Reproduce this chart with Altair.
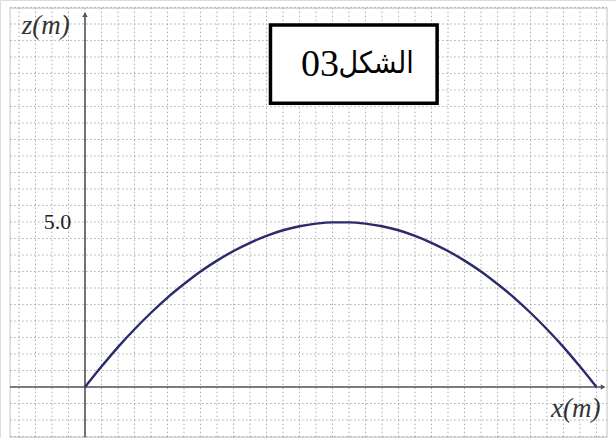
import altair as alt
import pandas as pd

# Trajectory z(x): horizontal distance (m) and height (m)
x_m = [0.0, 0.5, 1.0, 1.5, 2.0, 2.5, 3.0, 3.5, 4.0, 4.5, 5.0, 5.5, 6.0, 6.5, 7.0, 7.5,
       8.0, 8.5, 9.0, 9.5, 10.0, 10.5, 11.0, 11.5, 12.0, 12.5, 13.0, 13.5, 14.0, 14.5, 15.0, 15.5]
z_m = [0.0, 0.62, 1.21, 1.75, 2.25, 2.71, 3.12, 3.50, 3.83, 4.12, 4.37, 4.58, 4.75, 4.87, 4.95, 4.99,
       4.99, 4.95, 4.87, 4.75, 4.58, 4.37, 4.12, 3.83, 3.50, 3.12, 2.71, 2.25, 1.75, 1.21, 0.62, 0.0]

# Millimetre-paper grid, 0.5 m per cell
grid_x = [-2.0 + 0.5 * i for i in range(36)]
grid_z = [-1.5 + 0.5 * i for i in range(27)]

# Frame of the paper
frame_x = [-2.27, 15.82]
frame_z = [-1.52, 11.48]

# Text annotations
tick_label = "5.0"
tick_value = 5.0
z_label = "z(m)"
x_label = "x(m)"
fig_word = "الشكل"
fig_number = "03"

W, H = 616, 438
xs = alt.Scale(domain=[-2.576, 16.091], nice=False, zero=False)
ys = alt.Scale(domain=[-1.545, 11.727], nice=False, zero=False)


def X(field):
    return alt.X(field, type="quantitative", scale=xs, axis=None)


def Y(field):
    return alt.Y(field, type="quantitative", scale=ys, axis=None)


frame = alt.Chart(pd.DataFrame({"x": [frame_x[0]], "x2": [frame_x[1]],
                                "y": [frame_z[0]], "y2": [frame_z[1]]})).mark_rect(
    fill="white", stroke="#c4c4c4", strokeWidth=1
).encode(x=X("x"), x2="x2", y=Y("y"), y2="y2")

vgrid = alt.Chart(pd.DataFrame({"x": grid_x, "y": frame_z[0], "y2": frame_z[1]})).mark_rule(
    color="#8a8a8a", strokeWidth=1, strokeDash=[1.5, 2.5], opacity=0.7
).encode(x=X("x"), y=Y("y"), y2="y2")

hgrid = alt.Chart(pd.DataFrame({"y": grid_z, "x": frame_x[0], "x2": frame_x[1]})).mark_rule(
    color="#8a8a8a", strokeWidth=1, strokeDash=[1.5, 2.5], opacity=0.7
).encode(y=Y("y"), x=X("x"), x2="x2")

axes_df = pd.DataFrame({
    "x": [frame_x[0], 0.0],
    "x2": [frame_x[1] - 0.1, 0.0],
    "y": [0.0, frame_z[0]],
    "y2": [0.0, frame_z[1] - 0.15],
})
axes = alt.Chart(axes_df).mark_rule(color="#555555", strokeWidth=1.6).encode(
    x=X("x"), x2="x2", y=Y("y"), y2="y2"
)

arrows = alt.Chart(pd.DataFrame({
    "x": [frame_x[1] - 0.12, 0.0],
    "y": [0.0, frame_z[1] - 0.2],
    "shape": ["triangle-right", "triangle-up"],
})).mark_point(filled=True, color="#555555", size=30, opacity=1).encode(
    x=X("x"), y=Y("y"), shape=alt.Shape("shape:N", scale=None, legend=None)
)

curve = alt.Chart(pd.DataFrame({"x": x_m, "z": z_m})).mark_line(
    color="#2b2b6b", strokeWidth=2.4, interpolate="monotone"
).encode(x=X("x"), y=Y("z"))

tick_text = alt.Chart(pd.DataFrame({"x": [-0.42], "y": [tick_value], "t": [tick_label]})).mark_text(
    font="Liberation Serif", fontSize=22, align="right", baseline="middle", color="#222222"
).encode(x=X("x"), y=Y("y"), text="t:N")

axis_text = alt.Chart(pd.DataFrame({
    "x": [-1.92, 14.12],
    "y": [10.95, -0.68],
    "t": [z_label, x_label],
})).mark_text(
    font="Liberation Serif", fontSize=27, fontStyle="italic", align="left",
    baseline="middle", color="#333333"
).encode(x=X("x"), y=Y("y"), text="t:N")

box = alt.Chart(pd.DataFrame({"x": [5.62], "x2": [10.67], "y": [8.6], "y2": [10.97]})).mark_rect(
    fill="white", stroke="black", strokeWidth=3.5
).encode(x=X("x"), x2="x2", y=Y("y"), y2="y2")

number_text = alt.Chart(pd.DataFrame({"x": [7.12], "y": [9.76], "t": [fig_number]})).mark_text(
    font="Liberation Serif", fontSize=38, align="center", baseline="middle", color="black"
).encode(x=X("x"), y=Y("y"), text="t:N")

word_text = alt.Chart(pd.DataFrame({"x": [8.82], "y": [9.8], "t": [fig_word]})).mark_text(
    font="DejaVu Sans Condensed", fontSize=30, align="center", baseline="middle", color="black"
).encode(x=X("x"), y=Y("y"), text="t:N")

chart = alt.layer(
    frame, vgrid, hgrid, axes, arrows, curve, tick_text, axis_text, box, number_text, word_text
).properties(
    width=W, height=H, autosize=alt.AutoSizeParams(type="none"), padding=0
).configure_view(stroke=None).configure(background="white")

chart.save("out.html", embed_options={"renderer": "svg", "actions": False})
